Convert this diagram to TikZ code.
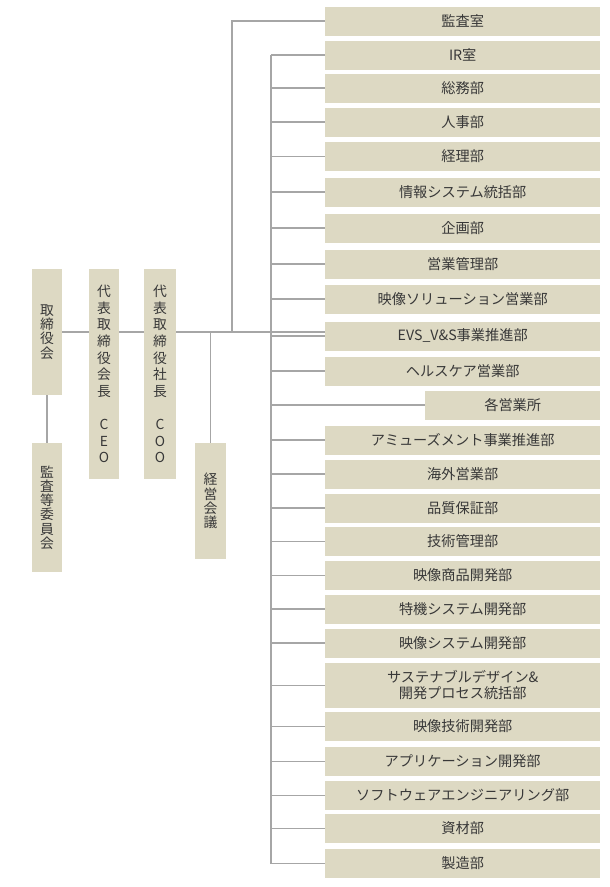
\documentclass[tikz,border=0pt]{standalone}
\usepackage{fontspec}
\setmainfont{Noto Sans CJK JP}
\usetikzlibrary{positioning,calc}
\definecolor{boxfill}{RGB}{221,217,195}
\definecolor{linegray}{RGB}{166,166,166}
\definecolor{txtgray}{RGB}{56,56,56}
\tikzset{
  box/.style={fill=boxfill, text=txtgray, inner sep=0pt},
  dept/.style={box, anchor=west, minimum width=275pt, minimum height=29pt,
    font=\fontsize{14.2}{16}\selectfont, align=center},
  vbox/.style={box, minimum width=30pt, align=center,
    font=\fontsize{13.8}{14.2}\selectfont},
  wbox/.style={vbox, font=\fontsize{13.8}{16.6}\selectfont},
  conn/.style={draw=linegray, line width=1.2pt}
}

\begin{document}
\begin{tikzpicture}[x=1pt, y=-1pt]
  \useasboundingbox (0,0) rectangle (610,887);

  % left side
  \node[vbox, minimum height=126pt] (board) at (47,332)   {取\\締\\役\\会};
  \node[vbox, minimum height=129pt] (audit) at (47,507.5) {監\\査\\等\\委\\員\\会};
  \node[wbox, minimum height=210pt] (ceo)   at (104,374)  {代\\表\\取\\締\\役\\会\\長\\　\\C\\E\\O};
  \node[wbox, minimum height=210pt, minimum width=32pt] (coo) at (160,374) {代\\表\\取\\締\\役\\社\\長\\　\\C\\O\\O};
  \node[vbox, minimum height=116pt, minimum width=31pt] (keiei) at (210.5,501) {経\\営\\会\\議};

  % departments
  \node[dept] (d1)  at (325,21)    {監査室};
  \node[dept] (d2)  at (325,55)    {IR室};
  \node[dept] (d3)  at (325,88)    {総務部};
  \node[dept] (d4)  at (325,122)   {人事部};
  \node[dept] (d5)  at (325,156.5) {経理部};
  \node[dept] (d6)  at (325,192)   {情報システム統括部};
  \node[dept] (d7)  at (325,228)   {企画部};
  \node[dept] (d8)  at (325,264)   {営業管理部};
  \node[dept] (d9)  at (325,299)   {映像ソリューション営業部};
  \node[dept] (d10) at (325,336)   {EVS\_V\&S事業推進部};
  \node[dept] (d11) at (325,371)   {ヘルスケア営業部};
  \node[dept, minimum width=175pt] (d12) at (425,405) {各営業所};
  \node[dept] (d13) at (325,440)   {アミューズメント事業推進部};
  \node[dept] (d14) at (325,474)   {海外営業部};
  \node[dept] (d15) at (325,508)   {品質保証部};
  \node[dept] (d16) at (325,541.5) {技術管理部};
  \node[dept] (d17) at (325,575.5) {映像商品開発部};
  \node[dept] (d18) at (325,609)   {特機システム開発部};
  \node[dept] (d19) at (325,643)   {映像システム開発部};
  \node[dept, minimum height=45pt] (d20) at (325,685.5) {サステナブルデザイン\&\\開発プロセス統括部};
  \node[dept] (d21) at (325,726.5) {映像技術開発部};
  \node[dept] (d22) at (325,761.5) {アプリケーション開発部};
  \node[dept] (d23) at (325,795.5) {ソフトウェアエンジニアリング部};
  \node[dept] (d24) at (325,828.5) {資材部};
  \node[dept] (d25) at (325,863.5) {製造部};

  \coordinate (j1) at (232,332);
  \coordinate (tr) at (271,332);

  % connectors
  \draw[conn] (board.south) -- (audit.north);
  \draw[conn] (board.east) -- (board.east -| ceo.west);
  \draw[conn] (board.east -| ceo.east) -- (board.east -| coo.west);
  \draw[conn] (board.east -| coo.east) -- (board.east -| d10.west);
  \draw[conn] (keiei.north) -- (keiei.north |- board.east);
  \draw[conn] (j1) |- (d1.west);
  \draw[conn] (tr |- d2.west) -- (tr |- d25.west);
  \foreach \i in {2,...,25} \draw[conn] (tr |- d\i.west) -- (d\i.west);
\end{tikzpicture}
\end{document}
